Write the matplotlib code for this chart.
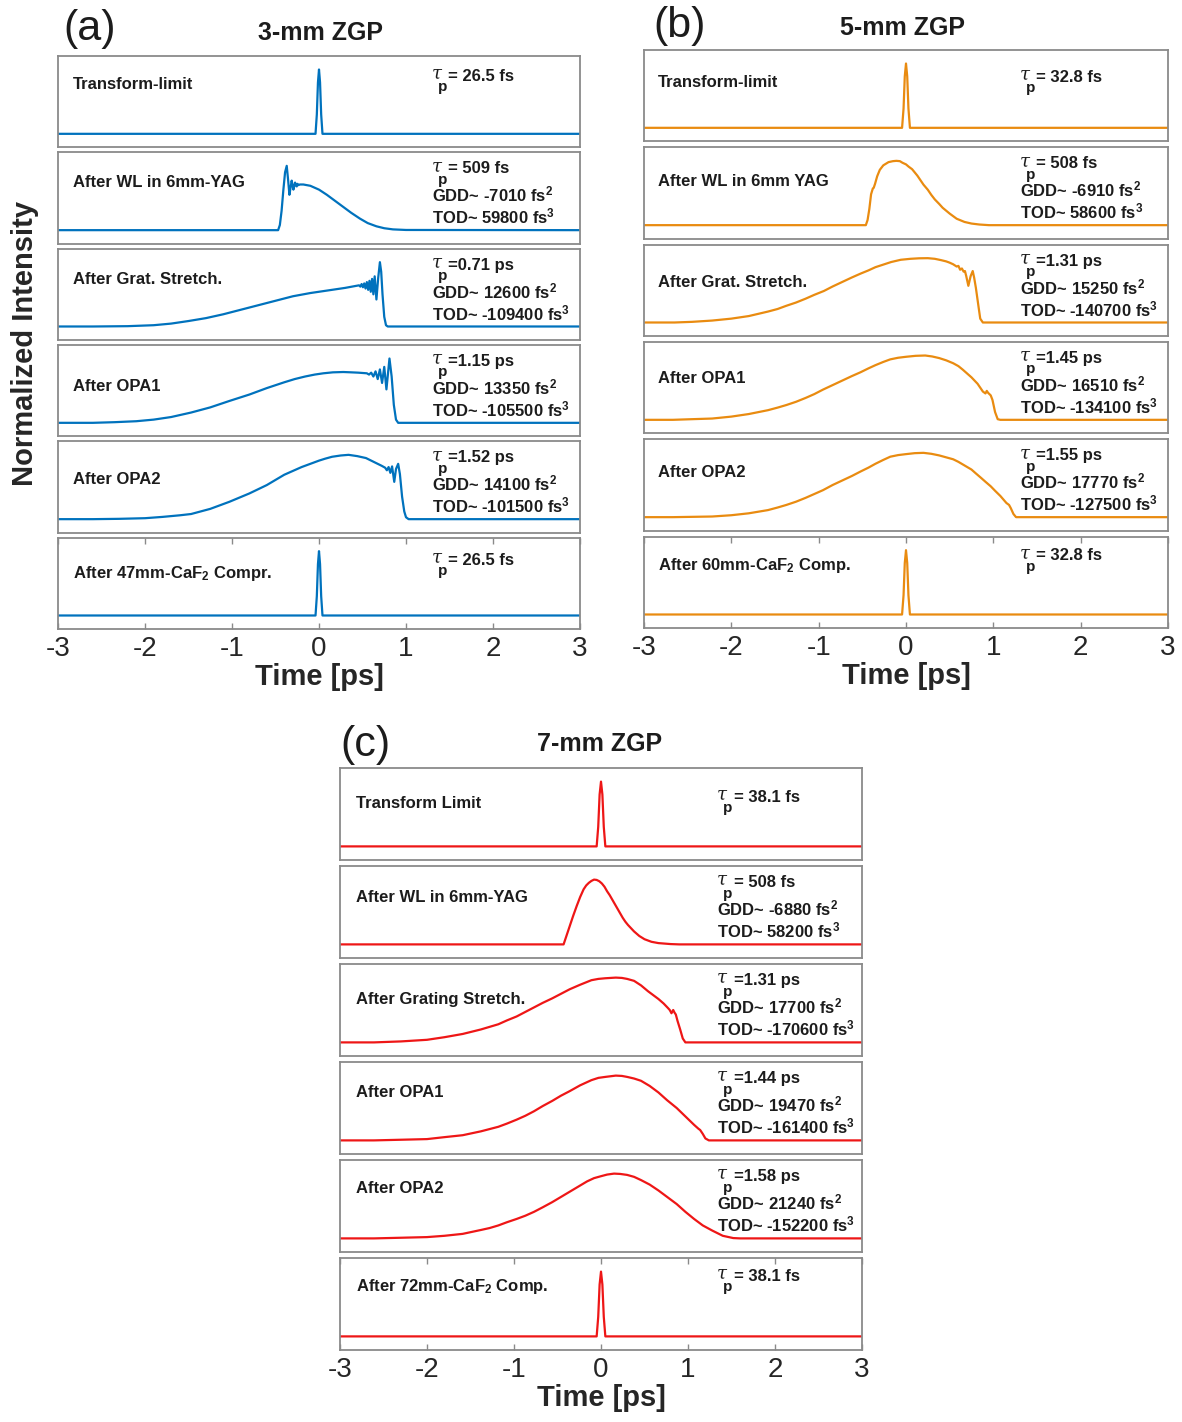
"""Pulse evolution through the OPCPA chain for 3-, 5- and 7-mm ZGP (three stacked panel groups)."""
import matplotlib

matplotlib.use("Agg")
import matplotlib.pyplot as plt

W, H = 1182, 1422  # output size in pixels (dpi 100)

BLUE = "#0072BD"
ORANGE = "#E98B10"
RED = "#EE1616"
FRAME = "#8a8a8a"
INK = "#1c1c1c"

# ---- curves: time [ps], normalized intensity ----
# (a) 3-mm ZGP
A_TL_T = [-3.0, -0.04, -0.025, -0.012, 0.0, 0.012, 0.025, 0.04, 3.0]
A_TL_I = [0, 0, 0.3, 0.8, 1.0, 0.8, 0.3, 0, 0]
A_WL_T = [-3.0, -0.47, -0.45, -0.43, -0.41, -0.39, -0.371, -0.355, -0.340, -0.327, -0.314, -0.304,
          -0.294, -0.285, -0.275, -0.265, -0.256, -0.246, -0.237, -0.22, -0.18, -0.10, 0.0, 0.09,
          0.18, 0.28, 0.37, 0.47, 0.56, 0.66, 0.75, 0.85, 1.0, 3.0]
A_WL_I = [0, 0, 0.08, 0.3, 0.62, 0.9, 1.0, 0.78, 0.55, 0.66, 0.77, 0.70,
          0.63, 0.68, 0.74, 0.70, 0.68, 0.72, 0.70, 0.71, 0.71, 0.69, 0.63, 0.55,
          0.46, 0.36, 0.27, 0.18, 0.11, 0.06, 0.03, 0.012, 0.003, 0]
A_GS_T = [-3.0, -2.6, -2.2, -1.9, -1.7, -1.5, -1.3, -1.1, -0.9, -0.7, -0.5, -0.3, -0.1, 0.1, 0.3,
          0.46, 0.475, 0.49, 0.505, 0.52, 0.535, 0.55, 0.565, 0.58, 0.595, 0.61, 0.625, 0.64, 0.66,
          0.68, 0.70, 0.715, 0.73, 0.75, 0.77, 0.79, 3.0]
A_GS_I = [0, 0, 0.005, 0.02, 0.045, 0.085, 0.13, 0.19, 0.26, 0.33, 0.40, 0.47, 0.52, 0.56, 0.60,
          0.64, 0.62, 0.66, 0.61, 0.67, 0.59, 0.69, 0.57, 0.71, 0.54, 0.74, 0.50, 0.78, 0.42,
          0.75, 1.0, 0.85, 0.5, 0.15, 0.02, 0, 0]
A_O1_T = [-3.0, -2.6, -2.35, -2.1, -1.9, -1.7, -1.47, -1.25, -1.03, -0.8, -0.6, -0.4, -0.28, -0.16,
          -0.05, 0.05, 0.16, 0.28, 0.37, 0.45, 0.55, 0.575, 0.60, 0.625, 0.65, 0.675, 0.70, 0.725,
          0.75, 0.775, 0.81, 0.835, 0.86, 0.885, 0.91, 3.0]
A_O1_I = [0, 0, 0.01, 0.025, 0.05, 0.09, 0.16, 0.24, 0.34, 0.44, 0.54, 0.63, 0.68, 0.72,
          0.75, 0.77, 0.785, 0.79, 0.785, 0.78, 0.77, 0.75, 0.78, 0.72, 0.80, 0.68, 0.83, 0.62,
          0.87, 0.52, 1.0, 0.72, 0.28, 0.05, 0, 0]
A_O2_T = [-3.0, -2.6, -2.3, -2.0, -1.8, -1.6, -1.47, -1.25, -1.03, -0.8, -0.6, -0.4, -0.2, -0.1,
          0.0, 0.07, 0.15, 0.25, 0.34, 0.44, 0.54, 0.63, 0.72, 0.76, 0.78, 0.80, 0.82, 0.84, 0.865,
          0.885, 0.91, 0.93, 0.955, 0.98, 1.0, 1.03, 3.0]
A_O2_I = [0, 0, 0.005, 0.015, 0.035, 0.06, 0.08, 0.16, 0.27, 0.40, 0.53, 0.69, 0.81, 0.86,
          0.91, 0.94, 0.97, 0.99, 1.0, 0.98, 0.95, 0.89, 0.83, 0.80, 0.76, 0.81, 0.72, 0.82, 0.58,
          0.78, 0.86, 0.7, 0.35, 0.12, 0.03, 0, 0]

# (b) 5-mm ZGP
B_TL_T = [-3.0, -0.045, -0.028, -0.014, 0.0, 0.014, 0.028, 0.045, 3.0]
B_TL_I = [0, 0, 0.3, 0.8, 1.0, 0.8, 0.3, 0, 0]
B_WL_T = [-3.0, -0.46, -0.44, -0.42, -0.40, -0.38, -0.37, -0.355, -0.33, -0.30, -0.26, -0.20,
          -0.15, -0.11, -0.07, -0.04, 0.0, 0.03, 0.07, 0.10, 0.13, 0.16, 0.20, 0.25, 0.29, 0.33,
          0.38, 0.42, 0.50, 0.58, 0.67, 0.75, 0.84, 0.95, 3.0]
B_WL_I = [0, 0, 0.08, 0.25, 0.48, 0.57, 0.58, 0.64, 0.76, 0.86, 0.93, 0.98,
          0.995, 1.0, 0.995, 0.97, 0.945, 0.91, 0.87, 0.82, 0.77, 0.71, 0.63, 0.55, 0.47, 0.40,
          0.33, 0.27, 0.18, 0.10, 0.05, 0.025, 0.01, 0, 0]
B_GS_T = [-3.0, -2.65, -2.45, -2.22, -2.0, -1.8, -1.58, -1.47, -1.37, -1.26, -1.15, -1.05, -0.94,
          -0.84, -0.73, -0.62, -0.52, -0.43, -0.35, -0.26, -0.17, -0.06, 0.05, 0.15, 0.25, 0.33,
          0.40, 0.46, 0.50, 0.54, 0.58, 0.60, 0.62, 0.64, 0.66, 0.675, 0.69, 0.714, 0.74, 0.764,
          0.78, 0.80, 0.83, 0.85, 0.88, 3.0]
B_GS_I = [0, 0, 0.01, 0.03, 0.06, 0.10, 0.17, 0.21, 0.26, 0.31, 0.37, 0.43, 0.49,
          0.56, 0.63, 0.70, 0.76, 0.81, 0.86, 0.90, 0.94, 0.975, 0.99, 0.998, 1.0, 0.99,
          0.97, 0.95, 0.93, 0.905, 0.87, 0.88, 0.82, 0.84, 0.79, 0.80, 0.72, 0.57, 0.72, 0.80,
          0.70, 0.54, 0.25, 0.06, 0, 0]
B_O1_T = [-3.0, -2.67, -2.45, -2.22, -2.0, -1.8, -1.58, -1.47, -1.37, -1.26, -1.15, -1.05, -0.95,
          -0.84, -0.73, -0.62, -0.52, -0.43, -0.35, -0.26, -0.18, -0.09, 0.0, 0.11, 0.22, 0.30,
          0.38, 0.46, 0.54, 0.60, 0.65, 0.70, 0.75, 0.82, 0.88, 0.91, 0.925, 0.94, 0.97, 0.99,
          1.02, 1.05, 1.08, 3.0]
B_O1_I = [0, 0, 0.01, 0.02, 0.05, 0.09, 0.15, 0.19, 0.23, 0.28, 0.34, 0.40, 0.47,
          0.54, 0.61, 0.68, 0.74, 0.80, 0.85, 0.90, 0.94, 0.965, 0.98, 0.995, 1.0, 0.985,
          0.96, 0.925, 0.88, 0.835, 0.78, 0.72, 0.66, 0.56, 0.44, 0.41, 0.45, 0.42, 0.38, 0.31,
          0.12, 0.01, 0, 0]
B_O2_T = [-3.0, -2.67, -2.22, -2.0, -1.8, -1.58, -1.47, -1.37, -1.26, -1.15, -1.05, -0.95, -0.84,
          -0.73, -0.62, -0.52, -0.43, -0.35, -0.26, -0.18, -0.09, 0.0, 0.10, 0.20, 0.29, 0.38,
          0.46, 0.54, 0.60, 0.65, 0.70, 0.75, 0.80, 0.86, 0.91, 0.97, 1.02, 1.08, 1.15, 1.18,
          1.20, 1.23, 1.26, 3.0]
B_O2_I = [0, 0, 0.01, 0.03, 0.06, 0.11, 0.15, 0.19, 0.24, 0.30, 0.36, 0.42, 0.50,
          0.57, 0.64, 0.71, 0.77, 0.83, 0.89, 0.94, 0.965, 0.98, 0.995, 1.0, 0.985, 0.96,
          0.93, 0.90, 0.86, 0.82, 0.78, 0.74, 0.68, 0.61, 0.55, 0.48, 0.41, 0.33, 0.22, 0.19,
          0.14, 0.05, 0, 0]

# (c) 7-mm ZGP
C_TL_T = [-3.0, -0.05, -0.032, -0.016, 0.0, 0.016, 0.032, 0.05, 3.0]
C_TL_I = [0, 0, 0.3, 0.8, 1.0, 0.8, 0.3, 0, 0]
C_WL_T = [-3.0, -0.43, -0.40, -0.36, -0.32, -0.28, -0.24, -0.20, -0.17, -0.14, -0.11, -0.08, -0.05,
          -0.02, 0.01, 0.04, 0.07, 0.10, 0.13, 0.16, 0.19, 0.22, 0.25, 0.28, 0.31, 0.38, 0.44, 0.50,
          0.58, 0.66, 0.80, 0.90, 3.0]
C_WL_I = [0, 0, 0.12, 0.28, 0.44, 0.59, 0.73, 0.85, 0.91, 0.95, 0.98, 1.0, 0.995,
          0.975, 0.94, 0.89, 0.82, 0.76, 0.69, 0.62, 0.55, 0.48, 0.41, 0.35, 0.30, 0.20, 0.13, 0.08,
          0.04, 0.02, 0.005, 0, 0]
C_GS_T = [-3.0, -2.61, -2.3, -2.0, -1.8, -1.59, -1.38, -1.18, -1.08, -0.97, -0.87, -0.77, -0.67,
          -0.56, -0.46, -0.36, -0.24, -0.11, -0.03, 0.05, 0.17, 0.24, 0.30, 0.38, 0.46, 0.54, 0.60,
          0.66, 0.72, 0.77, 0.79, 0.81, 0.83, 0.845, 0.86, 0.88, 0.91, 0.94, 0.97, 3.0]
C_GS_I = [0, 0, 0.015, 0.04, 0.08, 0.13, 0.20, 0.28, 0.34, 0.40, 0.47, 0.54, 0.61,
          0.68, 0.75, 0.82, 0.89, 0.96, 0.98, 0.99, 1.0, 0.995, 0.98, 0.95, 0.88, 0.79, 0.73,
          0.67, 0.60, 0.53, 0.50, 0.45, 0.50, 0.46, 0.43, 0.33, 0.20, 0.06, 0, 0]
C_O1_T = [-3.0, -2.61, -2.3, -2.0, -1.8, -1.59, -1.38, -1.18, -1.08, -0.97, -0.87, -0.77, -0.67,
          -0.56, -0.46, -0.36, -0.24, -0.11, -0.03, 0.05, 0.17, 0.24, 0.30, 0.38, 0.46, 0.56, 0.66,
          0.76, 0.87, 0.97, 1.07, 1.12, 1.14, 1.17, 1.2, 1.24, 3.0]
C_O1_I = [0, 0, 0.01, 0.02, 0.05, 0.08, 0.14, 0.21, 0.26, 0.32, 0.38, 0.45, 0.53,
          0.61, 0.69, 0.76, 0.85, 0.93, 0.965, 0.98, 1.0, 0.995, 0.98, 0.955, 0.92, 0.84, 0.74,
          0.62, 0.50, 0.37, 0.24, 0.18, 0.16, 0.10, 0.03, 0, 0]
C_O2_T = [-3.0, -2.61, -2.3, -2.0, -1.8, -1.59, -1.38, -1.28, -1.18, -1.08, -0.97, -0.87, -0.77,
          -0.67, -0.56, -0.46, -0.36, -0.26, -0.16, -0.08, 0.0, 0.07, 0.15, 0.22, 0.30, 0.38, 0.46,
          0.56, 0.66, 0.76, 0.87, 0.97, 1.07, 1.17, 1.28, 1.4, 1.52, 1.6, 3.0]
C_O2_I = [0, 0, 0.01, 0.02, 0.04, 0.07, 0.13, 0.16, 0.20, 0.25, 0.30, 0.35, 0.41,
          0.48, 0.56, 0.64, 0.72, 0.80, 0.88, 0.93, 0.96, 0.985, 1.0, 0.995, 0.98, 0.95, 0.90,
          0.83, 0.74, 0.64, 0.53, 0.41, 0.30, 0.20, 0.12, 0.04, 0.005, 0, 0]

# ---- panel texts ----
A_LABELS = ["Transform-limit", "After WL in 6mm-YAG", "After Grat. Stretch.", "After OPA1",
            "After OPA2", r"After 47mm-CaF$_2$ Compr."]
B_LABELS = ["Transform-limit", "After WL in 6mm YAG", "After Grat. Stretch.", "After OPA1",
            "After OPA2", r"After 60mm-CaF$_2$ Comp."]
C_LABELS = ["Transform Limit", "After WL in 6mm-YAG", "After Grating Stretch.", "After OPA1",
            "After OPA2", r"After 72mm-CaF$_2$ Comp."]
A_TAU = ["= 26.5 fs", "= 509 fs", "=0.71 ps", "=1.15 ps", "=1.52 ps", "= 26.5 fs"]
B_TAU = ["= 32.8 fs", "= 508 fs", "=1.31 ps", "=1.45 ps", "=1.55 ps", "= 32.8 fs"]
C_TAU = ["= 38.1 fs", "= 508 fs", "=1.31 ps", "=1.44 ps", "=1.58 ps", "= 38.1 fs"]
A_GDD = [None, "-7010", "12600", "13350", "14100", None]
B_GDD = [None, "-6910", "15250", "16510", "17770", None]
C_GDD = [None, "-6880", "17700", "19470", "21240", None]
A_TOD = [None, "59800", "-109400", "-105500", "-101500", None]
B_TOD = [None, "58600", "-140700", "-134100", "-127500", None]
C_TOD = [None, "58200", "-170600", "-161400", "-152200", None]
TICKS = [-3, -2, -1, 0, 1, 2, 3]

plt.rcParams["font.family"] = "Liberation Sans"
plt.rcParams["mathtext.fontset"] = "custom"
plt.rcParams["mathtext.rm"] = "Liberation Sans:bold"
plt.rcParams["mathtext.bf"] = "Liberation Sans:bold"
plt.rcParams["mathtext.it"] = "Liberation Sans:bold"
plt.rcParams["axes.unicode_minus"] = False

GROUPS = [
    dict(tag="(a)", title="3-mm ZGP", color=BLUE, left=58, right=580, top=56, bottom=629, gap=5,
         tag_xy=(90, 29), title_xy=(320, 33), label_x=0.029, note_x=0.716,
         label_y=[0.64, 0.62, 0.61, 0.50, 0.53, 0.56], tau_y=[0.73, 0.70],
         curves=[(A_TL_T, A_TL_I), (A_WL_T, A_WL_I), (A_GS_T, A_GS_I), (A_O1_T, A_O1_I),
                 (A_O2_T, A_O2_I), (A_TL_T, A_TL_I)],
         labels=A_LABELS, tau=A_TAU, gdd=A_GDD, tod=A_TOD),
    dict(tag="(b)", title="5-mm ZGP", color=ORANGE, left=644, right=1168, top=50, bottom=628, gap=6,
         tag_xy=(680, 26), title_xy=(903, 28), label_x=0.027, note_x=0.717,
         label_y=[0.59, 0.58, 0.54, 0.55, 0.59, 0.63], tau_y=[0.65, 0.74],
         curves=[(B_TL_T, B_TL_I), (B_WL_T, B_WL_I), (B_GS_T, B_GS_I), (B_O1_T, B_O1_I),
                 (B_O2_T, B_O2_I), (B_TL_T, B_TL_I)],
         labels=B_LABELS, tau=B_TAU, gdd=B_GDD, tod=B_TOD),
    dict(tag="(c)", title="7-mm ZGP", color=RED, left=340, right=862, top=768, bottom=1350, gap=6,
         tag_xy=(365, 745), title_xy=(600, 744), label_x=0.031, note_x=0.722,
         label_y=[0.57, 0.61, 0.57, 0.62, 0.64, 0.64], tau_y=[0.63, 0.75],
         curves=[(C_TL_T, C_TL_I), (C_WL_T, C_WL_I), (C_GS_T, C_GS_I), (C_O1_T, C_O1_I),
                 (C_O2_T, C_O2_I), (C_TL_T, C_TL_I)],
         labels=C_LABELS, tau=C_TAU, gdd=C_GDD, tod=C_TOD),
]


def px_box(left, top, width, height):
    return [left / W, 1 - (top + height) / H, width / W, height / H]


def tau_note(ax, x, y, rest):
    # italic tau with a dropped bold "p" beneath it, then "= value"
    kw = dict(xy=(x, y), xycoords=ax.transAxes, textcoords="offset points", va="baseline", color=INK)
    ax.annotate("τ", xytext=(0, 1.5), fontsize=13, style="italic", family="DejaVu Serif", **kw)
    ax.annotate("p", xytext=(4.5, -7.5), fontsize=11, fontweight="bold", **kw)
    ax.annotate(rest, xytext=(12, 0), fontsize=12, fontweight="bold", **kw)


def draw_group(fig, g):
    n = len(g["curves"])
    h = (g["bottom"] - g["top"] - g["gap"] * (n - 1)) / n
    for i, (t, y) in enumerate(g["curves"]):
        top = g["top"] + i * (h + g["gap"])
        ax = fig.add_axes(px_box(g["left"], top, g["right"] - g["left"], h))
        ax.plot(t, y, color=g["color"], lw=1.6)
        ax.set_xlim(-3, 3)
        ax.set_ylim(-0.21, 1.21)
        ax.set_yticks([])
        for s in ax.spines.values():
            s.set_color(FRAME)
            s.set_linewidth(1.3)

        tx = dict(transform=ax.transAxes, fontsize=12, fontweight="bold", color=INK, va="baseline")
        ax.text(g["label_x"], g["label_y"][i], g["labels"][i], **tx)
        if g["gdd"][i] is None:
            tau_note(ax, g["note_x"], g["tau_y"][0 if i == 0 else 1], g["tau"][i])
        else:
            tau_note(ax, g["note_x"], 0.77, g["tau"][i])
            ax.text(g["note_x"], 0.46, f"GDD~ {g['gdd'][i]} fs$^2$", **tx)
            ax.text(g["note_x"], 0.22, f"TOD~ {g['tod'][i]} fs$^3$", **tx)

        if i < n - 1:
            ax.set_xticks([])
        else:
            ax.set_xticks(TICKS)
            ax.tick_params(axis="x", direction="in", top=True, length=4, width=1.0,
                           color=FRAME, labelsize=20, labelcolor="#262626", pad=5)
            ax.set_xlabel("Time [ps]", fontsize=21, fontweight="bold", color="#262626", labelpad=1)

    tx, ty = g["tag_xy"]
    fig.text(tx / W, 1 - ty / H, g["tag"], fontsize=31, color=INK, ha="center", va="center")
    sx, sy = g["title_xy"]
    fig.text(sx / W, 1 - sy / H, g["title"], fontsize=18, fontweight="bold", color=INK,
             ha="center", va="center")


def main():
    fig = plt.figure(figsize=(W / 100, H / 100), dpi=100)
    for g in GROUPS:
        draw_group(fig, g)
    fig.text(25 / W, 1 - 343 / H, "Normalized Intensity", rotation=90, fontsize=21,
             fontweight="bold", color="#262626", ha="center", va="center")
    fig.savefig("out.png", dpi=100)


if __name__ == "__main__":
    main()
